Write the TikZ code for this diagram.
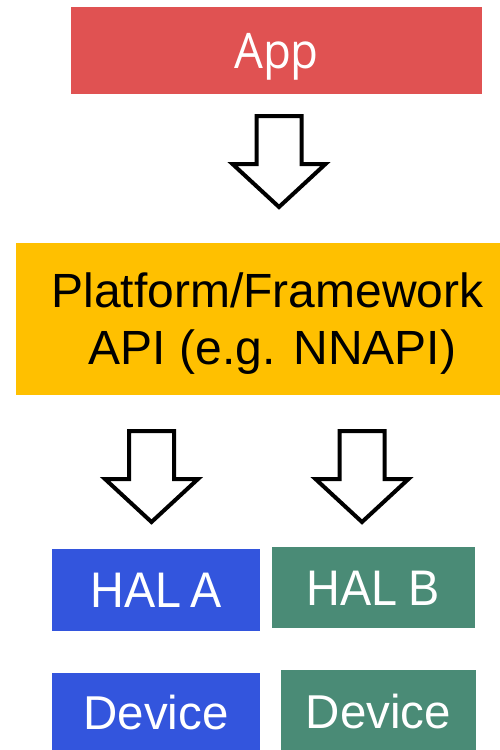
\documentclass[tikz,border=0pt]{standalone}
\usepackage{graphicx}
\usepackage{fontspec}
\setmainfont{Liberation Sans}
\newfontfamily\appfont{Open Sans}
\definecolor{appred}{RGB}{224,82,82}
\definecolor{platorange}{RGB}{255,192,0}
\definecolor{halblue}{RGB}{51,85,221}
\definecolor{halgreen}{RGB}{74,139,118}
\begin{document}
\begin{tikzpicture}[x=1pt,y=-1pt,
  box/.style={rectangle, inner sep=0pt, outer sep=0pt, draw=none},
  captext/.style={text=white, font=\fontsize{#1}{#1}\selectfont,
    text height=0.716*#1 pt, text depth=0pt},
  downarrow/.pic={
    \draw[line width=4pt, fill=white]
      (-22.5,0) -- (-22.5,48) -- (-46.5,48) -- (0,91)
      -- (46.5,48) -- (22.5,48) -- (22.5,0) -- cycle;}]
\useasboundingbox (0,0) rectangle (500,750);

% top layer: application
\node[box, fill=appred, minimum width=411pt, minimum height=87pt,
  text=white, font=\appfont\fontsize{49}{59}\selectfont,
  text height=35pt, text depth=0pt] (app) at (276.5,50.5)
  {\scalebox{0.93}[1]{App}};

% framework layer
\node[box, fill=platorange, minimum width=486pt, minimum height=152pt]
  (plat) at (259,319) {};
\node[inner sep=0pt, align=center, font=\fontsize{48}{57}\selectfont]
  (platlabel) at (267.5,323.5)
  {Platform/Framework\\\hspace*{10pt}API (e.g. NNAPI)};

% HAL layer
\node[box, fill=halblue, minimum width=208pt, minimum height=82pt,
  captext=50] (hala) at (156,590) {\scalebox{0.935}[1]{HAL\kern-0.08em\ A}};
\node[box, fill=halgreen, minimum width=203pt, minimum height=81pt,
  captext=50] (halb) at (373.5,587.5) {\scalebox{0.935}[1]{HAL\kern-0.04em\ B}};

% device layer
\node[box, fill=halblue, minimum width=208pt, minimum height=79pt,
  captext=47.5] (deva) at (156,712.5) {Device};
\node[box, fill=halgreen, minimum width=195pt, minimum height=82pt,
  captext=47.5] (devb) at (378.5,711) {Device};

% hollow block arrows between the layers
\pic (apptoplat) at (279,116) {downarrow};
\pic (plattohala) at (151.5,431) {downarrow};
\pic (plattohalb) at (362,431) {downarrow};
\end{tikzpicture}
\end{document}
